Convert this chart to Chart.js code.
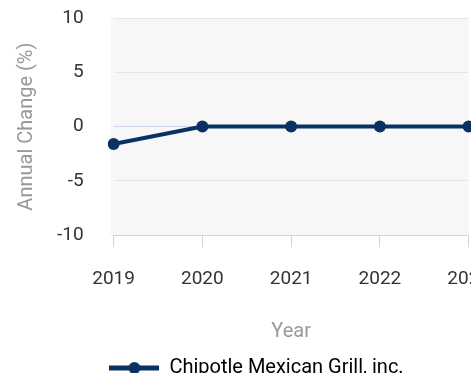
<!DOCTYPE html>
<html>
<head>
<meta charset="utf-8">
<script src="https://cdn.jsdelivr.net/npm/chart.js@4.4.0/dist/chart.umd.min.js"></script>
<style>
  html, body { margin: 0; padding: 0; overflow: hidden; background: #fff; }
</style>
</head>
<body>
<canvas id="line-chart" width="511" height="388"></canvas>
<script>
var years = ["2019", "2020", "2021", "2022", "2023"];
var changes = [-1.6, 0, 0, 0, 0];
var seriesName = "Chipotle Mexican Grill, inc.";
var lineColor = "#0b3163";

// legend marker: a line with a dot on it
var marker = document.createElement("canvas");
marker.width = 50;
marker.height = 14;
var mctx = marker.getContext("2d");
mctx.strokeStyle = lineColor;
mctx.lineWidth = 5;
mctx.beginPath();
mctx.moveTo(0, 7);
mctx.lineTo(50, 7);
mctx.stroke();
mctx.fillStyle = lineColor;
mctx.beginPath();
mctx.arc(25, 7, 6, 0, Math.PI * 2);
mctx.fill();

var plotBg = {
  id: "plotBg",
  beforeDraw: function(chart) {
    var a = chart.chartArea, ctx = chart.ctx;
    ctx.save();
    ctx.fillStyle = "#f7f7f7";
    ctx.fillRect(a.left - 3, a.top, a.right - a.left + 3, a.bottom - a.top);
    ctx.restore();
  }
};

var chart = new Chart(document.getElementById("line-chart"), {
  type: "line",
  data: {
    labels: years,
    datasets: [{
      label: seriesName,
      data: changes,
      borderColor: lineColor,
      backgroundColor: lineColor,
      borderWidth: 4,
      pointRadius: 6,
      pointBackgroundColor: lineColor,
      pointBorderWidth: 0,
      pointStyle: "circle",
      tension: 0
    }]
  },
  options: {
    responsive: false,
    animation: false,
    layout: { padding: { top: 18, right: 0, left: 2, bottom: 0 } },
    plugins: {
      legend: {
        position: "bottom",
        labels: {
          usePointStyle: true,
          pointStyleWidth: 50,
          font: { family: "Roboto", size: 20 },
          color: "#333",
          padding: 14,
          generateLabels: function(c) {
            return [{ text: seriesName, pointStyle: marker, fillStyle: lineColor, strokeStyle: lineColor, lineWidth: 1, datasetIndex: 0 }];
          }
        }
      },
      tooltip: { enabled: false }
    },
    scales: {
      x: {
        grid: {
          display: true,
          drawOnChartArea: false,
          color: "#ccd6eb",
          tickLength: 12
        },
        border: { color: "#ccd6eb", width: 1 },
        ticks: {
          color: "#333",
          font: { family: "Roboto", size: 19 },
          padding: 21,
          maxRotation: 0
        },
        title: {
          display: true,
          text: "Year",
          color: "#999",
          font: { family: "Roboto", size: 20 },
          padding: { top: 8, bottom: 0 }
        }
      },
      y: {
        min: -10,
        max: 10,
        ticks: {
          stepSize: 5,
          color: "#333",
          font: { family: "Roboto", size: 19 },
          padding: 3
        },
        grid: {
          drawTicks: true,
          tickLength: 27,
          tickColor: "rgba(0,0,0,0)",
          color: function(ctx) { return ctx.tick && ctx.tick.value === 0 ? "#ccd6eb" : "#e6e6e6"; }
        },
        border: { display: false },
        title: {
          display: true,
          text: "Annual Change (%)",
          color: "#999",
          font: { family: "Roboto", size: 20 },
          padding: { top: 12.5, bottom: 15.5 }
        }
      }
    }
  },
  plugins: [plotBg]
});
</script>
</body>
</html>
